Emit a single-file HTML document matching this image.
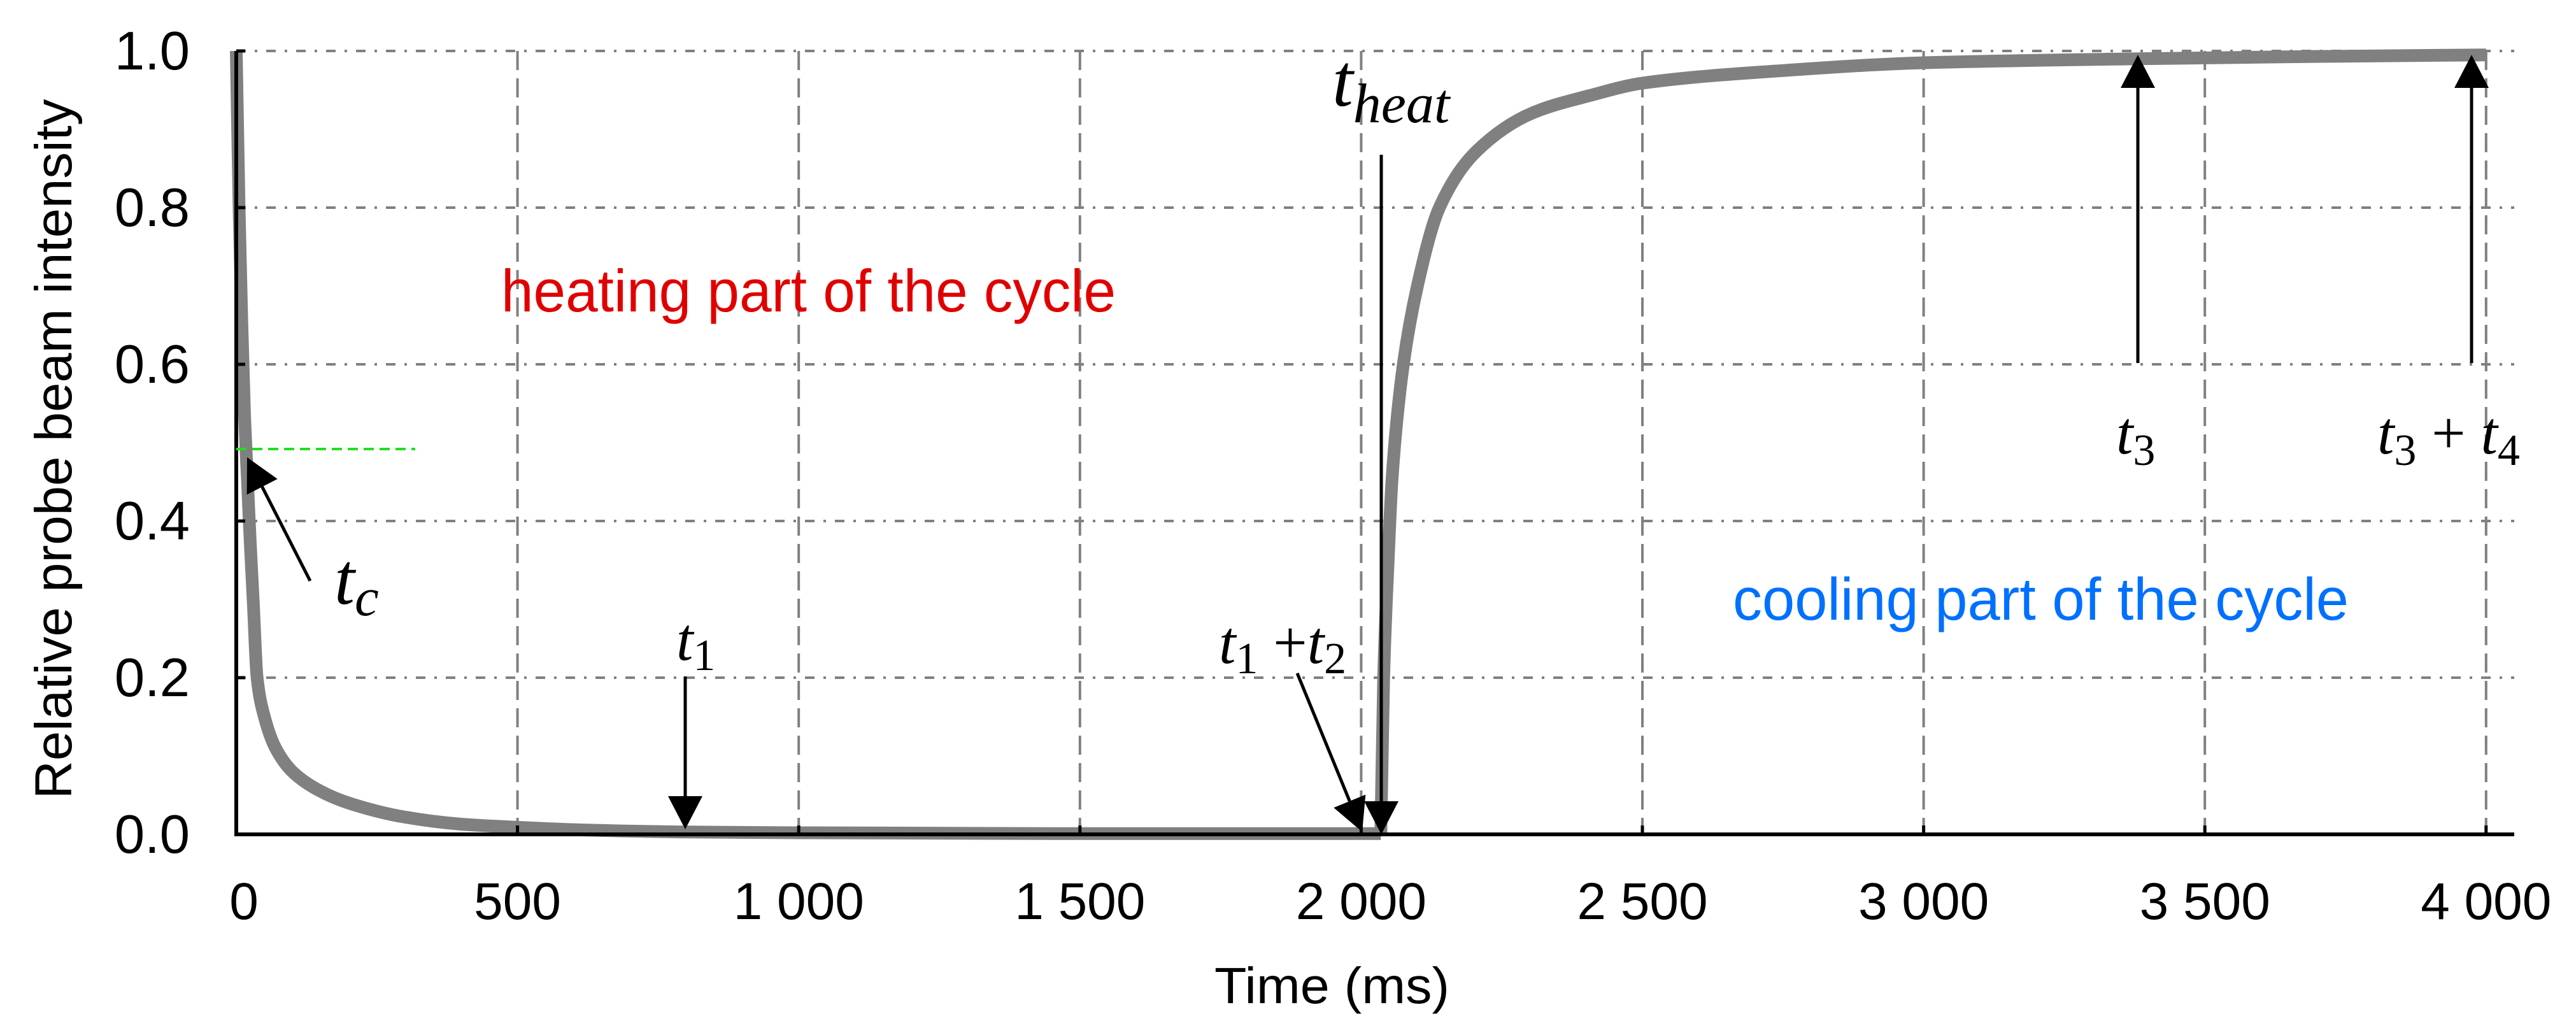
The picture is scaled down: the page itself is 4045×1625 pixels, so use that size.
<!DOCTYPE html>
<html><head><meta charset="utf-8"><style>
html,body{margin:0;padding:0;background:#fff;}
svg{display:block;}
</style></head>
<body>
<div style="position:relative;width:4045px;height:1625px">
<svg id="chart" width="4045" height="1625" viewBox="0 0 4045 1625" xmlns="http://www.w3.org/2000/svg" style="position:absolute;left:0;top:0">
<g id="grid"></g>
<g id="curve"></g>
<g id="axes"></g>
<g id="ann"></g>
</svg>
<svg width="4045" height="1625" xmlns="http://www.w3.org/2000/svg" font-family="Liberation Serif, serif" font-style="italic" style="position:absolute;left:0;top:0">
<text transform="translate(112,705) rotate(-90)" text-anchor="middle" font-family="Liberation Sans, sans-serif" font-style="normal" font-size="82" textLength="1099" lengthAdjust="spacingAndGlyphs">Relative probe beam intensity</text>
<text x="1907" y="1575" font-family="Liberation Sans, sans-serif" font-style="normal" font-size="80" textLength="369" lengthAdjust="spacingAndGlyphs">Time (ms)</text>
<text x="787" y="489" fill="#e00000" font-family="Liberation Sans, sans-serif" font-style="normal" font-size="94" textLength="965" lengthAdjust="spacingAndGlyphs">heating part of the cycle</text>
<text x="2721" y="973" fill="#0070ff" font-family="Liberation Sans, sans-serif" font-style="normal" font-size="94" textLength="967" lengthAdjust="spacingAndGlyphs">cooling part of the cycle</text>
<text x="525" y="948" font-size="115">t<tspan font-size="85" dy="18">c</tspan></text>
<text x="1062" y="1036" font-size="95">t<tspan font-size="70" font-style="normal" dy="16">1</tspan></text>
<text x="1914" y="1041" font-size="95">t<tspan font-size="70" font-style="normal" dy="16">1</tspan><tspan dy="-16" font-style="normal"> +</tspan>t<tspan font-size="70" font-style="normal" dy="16">2</tspan></text>
<text x="2092" y="166" font-size="118">t<tspan font-size="88" dy="26">heat</tspan></text>
<text x="3323" y="712" font-size="95">t<tspan font-size="70" font-style="normal" dy="18">3</tspan></text>
<text x="3733" y="712" font-size="95">t<tspan font-size="70" font-style="normal" dy="18">3</tspan><tspan dy="-18" font-style="normal"> + </tspan>t<tspan font-size="70" font-style="normal" dy="18">4</tspan></text>
</svg>
</div>
<script>
const xTicks = [0,500,1000,1500,2000,2500,3000,3500,4000];
const xTickLabels = ["0","500","1 000","1 500","2 000","2 500","3 000","3 500","4 000"];
const yTicks = [0,0.2,0.4,0.6,0.8,1.0];
const yTickLabels = ["0.0","0.2","0.4","0.6","0.8","1.0"];
const heatT = [0,5,10,15,20,25,30,37,50,70,100,150,200,300,400,500,600,800,1000,1500,2035];
const heatV = [1.0,0.8,0.65,0.53,0.45,0.37,0.3,0.2,0.15,0.11,0.08,0.055,0.04,0.022,0.013,0.009,0.006,0.003,0.002,0.001,0.001];
const coolT = [2035,2040,2048,2055,2075,2100,2139,2205,2305,2406,2501,2750,3001,3380,3700,4000];
const coolV = [0.001,0.2,0.35,0.455,0.6,0.7,0.8,0.872,0.921,0.943,0.959,0.975,0.985,0.99,0.993,0.995];

const X0=371, XS=441.6/500, Y0=1310, YS=1230;
const xs = t => X0 + t*XS;
const ys = v => Y0 - v*YS;
const NS="http://www.w3.org/2000/svg";
function mk(tag, attrs, parent){
  const e=document.createElementNS(NS,tag);
  for(const k in attrs) e.setAttribute(k,attrs[k]);
  parent.appendChild(e); return e;
}
const grid=document.getElementById('grid'), axes=document.getElementById('axes'), curve=document.getElementById('curve');
const XR=3948, YT=80;
yTicks.forEach((v)=>{
  if(v===0) return;
  const l=mk('line',{x1:X0,x2:XR,y1:ys(v),y2:ys(v),stroke:'#808080','stroke-width':4,'stroke-dasharray':'15 14 4 14'},grid);
  
  
});
xTicks.forEach(t=>{
  if(t===0) return;
  const l=mk('line',{x1:xs(t),x2:xs(t),y1:YT,y2:Y0,stroke:'#808080','stroke-width':4,'stroke-dasharray':'30 13'},grid);
  
  
});
// monotone cubic path
function monoPath(T,V){
  const px=T.map(xs), py=V.map(ys), n=px.length;
  const d=[], m=[];
  for(let i=0;i<n-1;i++) d.push((py[i+1]-py[i])/(px[i+1]-px[i]));
  m[0]=d[0]; m[n-1]=d[n-2];
  for(let i=1;i<n-1;i++){
    if(d[i-1]*d[i]<=0) m[i]=0;
    else { const w1=2*(px[i+1]-px[i])+(px[i]-px[i-1]), w2=(px[i+1]-px[i])+2*(px[i]-px[i-1]);
      m[i]=(w1+w2)/(w1/d[i-1]+w2/d[i]); }
  }
  let s='M'+px[0].toFixed(1)+' '+py[0].toFixed(1);
  for(let i=0;i<n-1;i++){
    const h=px[i+1]-px[i];
    s+='C'+(px[i]+h/3).toFixed(1)+' '+(py[i]+m[i]*h/3).toFixed(1)+' '+(px[i+1]-h/3).toFixed(1)+' '+(py[i+1]-m[i+1]*h/3).toFixed(1)+' '+px[i+1].toFixed(1)+' '+py[i+1].toFixed(1);
  }
  return s;
}
const p1=mk('path',{d:monoPath(heatT,heatV),fill:'none',stroke:'#808080','stroke-width':20,'stroke-linejoin':'round','stroke-linecap':'butt'},curve);


const p2=mk('path',{d:monoPath(coolT,coolV),fill:'none',stroke:'#808080','stroke-width':20,'stroke-linejoin':'round'},curve);


const ax=mk('path',{d:`M${X0} ${YT}V${Y0}H${XR}`,fill:'none',stroke:'#000','stroke-width':6},axes);


yTicks.forEach((v,i)=>{
  const tk=mk('line',{x1:X0,x2:X0+14,y1:ys(v),y2:ys(v),stroke:'#000','stroke-width':5},axes);
  
  
  const tx=mk('text',{x:298,y:ys(v)+29,'text-anchor':'end','font-family':'Liberation Sans, sans-serif','font-size':85,fill:'#000'},axes);
  tx.textContent=yTickLabels[i];
  
  
});
xTicks.forEach((t,i)=>{
  const tk=mk('line',{x1:xs(t),x2:xs(t),y1:Y0,y2:Y0-14,stroke:'#000','stroke-width':5},axes);
  
  
  const tx=mk('text',{x:xs(t)+(t===0?12:0),y:1443,'text-anchor':'middle','font-family':'Liberation Sans, sans-serif','font-size':82,fill:'#000'},axes);
  tx.textContent=xTickLabels[i];
  
  
});
(function(){
const ann=document.getElementById('ann');
function arrow(x1,y1,x2,y2,name){
  const dx=x2-x1,dy=y2-y1,L=Math.hypot(dx,dy),ux=dx/L,uy=dy/L,hl=52,hw=27;
  const bx=x2-ux*hl,by=y2-uy*hl;
  const g=document.createElementNS(NS,'g');ann.appendChild(g);
  
  
  const ln=document.createElementNS(NS,'line');
  ln.setAttribute('x1',x1);ln.setAttribute('y1',y1);ln.setAttribute('x2',bx);ln.setAttribute('y2',by);
  ln.setAttribute('stroke','#000');ln.setAttribute('stroke-width',5);g.appendChild(ln);
  const pg=document.createElementNS(NS,'polygon');
  pg.setAttribute('points',`${x2},${y2} ${bx-uy*hw},${by+ux*hw} ${bx+uy*hw},${by-ux*hw}`);
  pg.setAttribute('fill','#000');g.appendChild(pg);
}
const g=mk('line',{x1:371,x2:652,y1:705,y2:705,stroke:'#22dd22','stroke-width':4,'stroke-dasharray':'16 9'},ann);


arrow(487,912,388,718,'tc-arrow');
arrow(1076,1062,1076,1302,'t1-arrow');
arrow(2037,1057,2139,1306,'t1t2-arrow');
arrow(2169,243,2169,1310,'theat-arrow');
arrow(3357,570,3357,86,'t3-arrow');
arrow(3881,570,3881,86,'t3t4-arrow');
})();
</script>
</body></html>
